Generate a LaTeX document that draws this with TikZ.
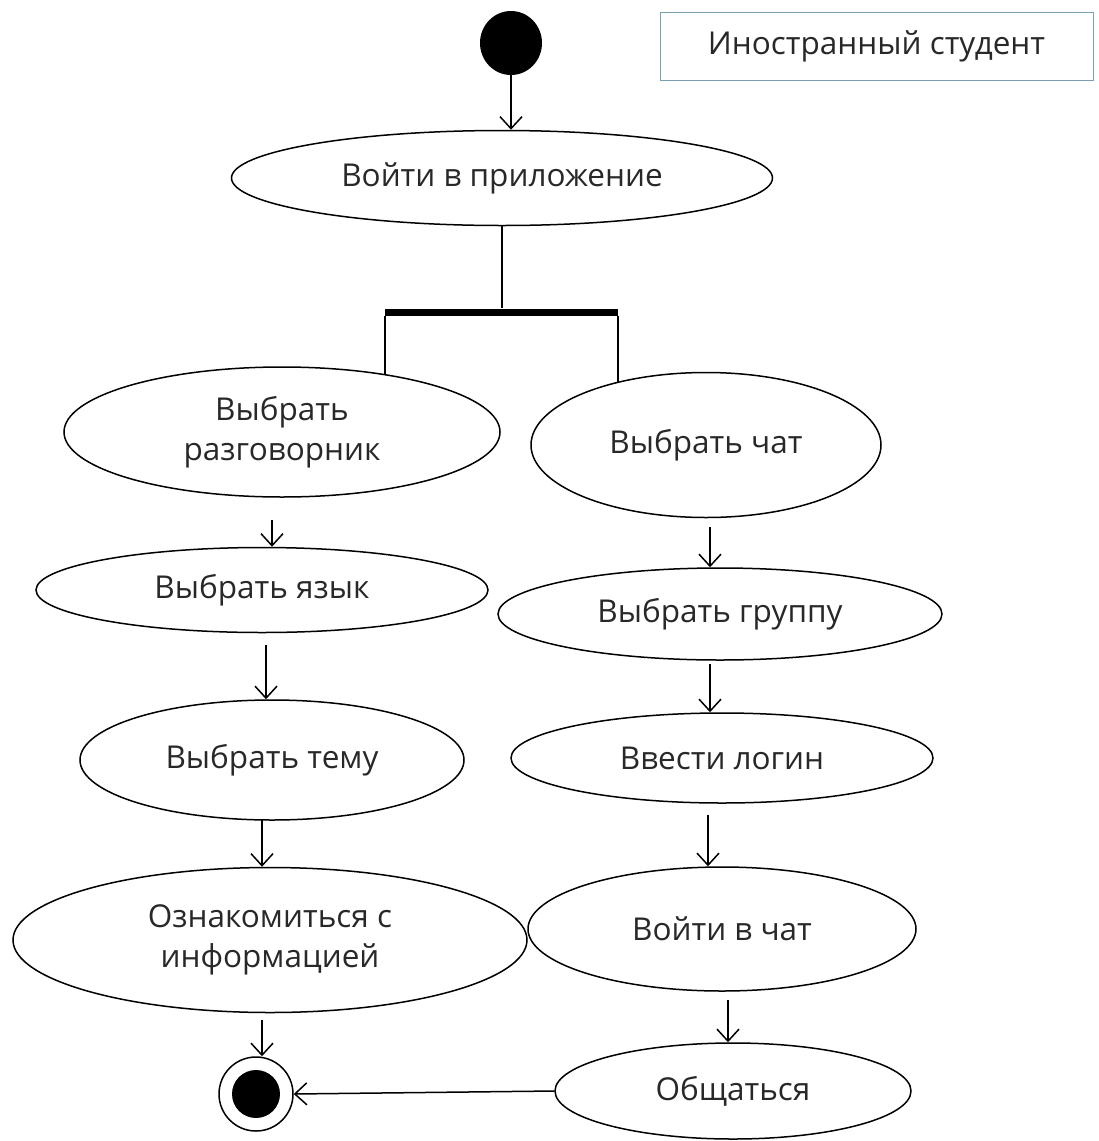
\documentclass[tikz,border=0pt]{standalone}
\usepackage{fontspec}
\setmainfont{Open Sans}
\usetikzlibrary{arrows.meta,shapes.geometric}
\definecolor{txt}{RGB}{40,40,40}
\definecolor{boxc}{RGB}{120,160,175}
\tikzset{
  act/.style={ellipse,draw,line width=1.5pt,inner sep=0pt,text=txt,align=center,
    font=\fontsize{31.5}{40}\selectfont},
  arr/.style={line width=1.5pt,-{Straight Barb[length=12pt,width=22pt,line width=1.5pt]}},
  ln/.style={line width=1.5pt},
}
\begin{document}
\begin{tikzpicture}[x=1pt,y=-1pt]
\useasboundingbox (0,0) rectangle (1099,1141);
% start
\node[ellipse,fill=black,minimum width=62,minimum height=64,inner sep=0pt] (start) at (511,43) {};
\node[draw=boxc,line width=1pt,minimum width=433,minimum height=68,inner sep=0pt,text=txt,
  font=\fontsize{31.5}{40}\selectfont] (actor) at (876.5,46) {Иностранный студент};
% activities
\node[act,minimum width=541,minimum height=95] (enter) at (502,178) {Войти в приложение};
\node[fill=black,minimum width=233,minimum height=7,inner sep=0pt] (fork) at (501.5,312) {};
\node[act,minimum width=436,minimum height=130] (raz) at (282,432) {Выбрать\\разговорник};
\node[act,minimum width=350,minimum height=145] (chat) at (706,445) {Выбрать чат};
\node[act,minimum width=452,minimum height=85] (lang) at (262,590) {Выбрать язык};
\node[act,minimum width=384,minimum height=120] (topic) at (272,760) {Выбрать тему};
\node[act,minimum width=514,minimum height=145] (info) at (270,940) {Ознакомиться с\\информацией};
\node[act,minimum width=444,minimum height=92] (group) at (720,614) {Выбрать группу};
\node[act,minimum width=422,minimum height=90] (login) at (722,758) {Ввести логин};
\node[act,minimum width=388,minimum height=124] (enterchat) at (722,929) {Войти в чат};
\node[act,minimum width=356,minimum height=96] (talk) at (733,1091) {Общаться};
% final
\node[circle,draw,line width=1.5pt,minimum size=74,inner sep=0pt] (final) at (256,1094) {};
\node[circle,fill=black,minimum size=48,inner sep=0pt] (finalin) at (final) {};
% connectors
\draw[arr] (start.south) -- (start.south |- enter.north);
\draw[ln] (enter.south) -- (enter.south |- fork.north);
\draw[ln] (fork.south west) -- (fork.south west |- raz.29);
\draw[ln] (fork.south east) -- (fork.south east |- chat.145);
\coordinate (c1) at (272,520);
\draw[arr] (c1) -- (c1 |- lang.north);
\coordinate (c2) at (266,645);
\draw[arr] (c2) -- (c2 |- topic.north);
\coordinate (c3) at (262,820);
\draw[arr] (c3) -- (c3 |- info.north);
\coordinate (c4) at (262,1020);
\draw[arr] (c4) -- (c4 |- final.north);
\coordinate (c5) at (710,527);
\draw[arr] (c5) -- (c5 |- group.north);
\coordinate (c6) at (710,664);
\draw[arr] (c6) -- (c6 |- login.north);
\coordinate (c7) at (708,815);
\draw[arr] (c7) -- (c7 |- enterchat.north);
\coordinate (c8) at (728,1000);
\draw[arr] (c8) -- (c8 |- talk.north);
\draw[arr] (talk.west) -- (final.east);
\end{tikzpicture}
\end{document}
